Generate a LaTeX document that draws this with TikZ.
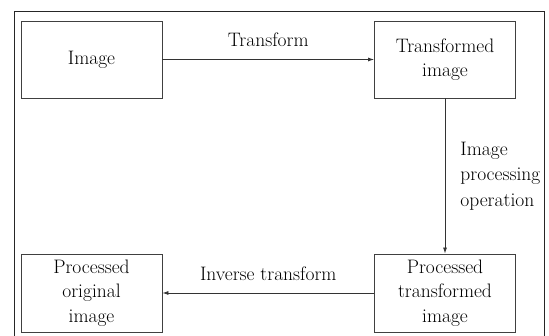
\documentclass[tikz,border=0pt]{standalone}
\usetikzlibrary{arrows.meta}
\begin{document}
\begin{tikzpicture}[x=1pt,y=-1pt,
  box/.style={draw=black!75,line width=0.9pt,minimum width=141pt,minimum height=77pt,inner sep=0pt,align=center,font=\fontsize{19.5}{24.5}\selectfont},
  lbl/.style={font=\fontsize{19.5}{25.5}\selectfont,inner sep=0pt},
  conn/.style={draw=black!80,line width=0.8pt,-{Latex[length=6pt,width=4pt]}}]
\useasboundingbox (0,0) rectangle (549,336);
\begin{scope}
\clip (0,0) rectangle (549,336);
\draw[black!85,line width=0.9pt] (14.5,11) rectangle (544,360);
\end{scope}
\node[box] (img) at (91.5,59.5) {Image};
\node[box] (timg) at (445,59.5) {Transformed\\image};
\node[box,minimum height=78pt] (porig) at (91.5,293) {Processed\\original\\image};
\node[box,minimum height=78pt] (ptr) at (445,293) {Processed\\transformed\\image};
\draw[conn] (img) -- node[lbl,above=12pt] {Transform} (timg);
\draw[conn] (timg) -- node[lbl,right=15pt,align=left] {Image\\processing\\operation} (ptr);
\draw[conn] (ptr) -- node[lbl,above=12pt] {Inverse transform} (porig);
\end{tikzpicture}
\end{document}
